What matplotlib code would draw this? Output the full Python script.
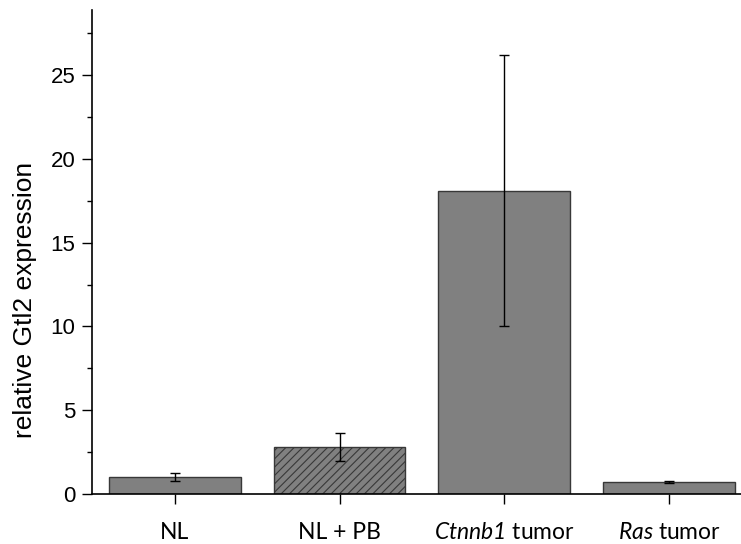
import matplotlib
matplotlib.use("Agg")
import matplotlib.pyplot as plt
from matplotlib.ticker import MultipleLocator

categories = ["NL", "NL + PB", "Ctnnb1 tumor", "Ras tumor"]
tick_labels = [r"NL", r"NL + PB", r"$\mathit{Ctnnb1}$ tumor", r"$\mathit{Ras}$ tumor"]
values = [1.0, 2.8, 18.1, 0.7]
errors = [0.25, 0.85, 8.1, 0.07]
hatches = ["", "////", "", ""]

plt.rcParams["hatch.linewidth"] = 0.8
plt.rcParams["hatch.color"] = "#333333"
# italic gene names (digits included) via mathtext
plt.rcParams["mathtext.fontset"] = "custom"
plt.rcParams["mathtext.it"] = "Lato:italic"
plt.rcParams["mathtext.rm"] = "Lato:italic"

fig = plt.figure(figsize=(7.41, 5.44), dpi=100)
ax = fig.add_axes([0.124, 0.092, 0.876, 0.89])

x = range(len(values))
bars = ax.bar(x, values, width=0.8, color="#808080", edgecolor="#383838", linewidth=1.0)
for b, h in zip(bars, hatches):
    b.set_hatch(h)
ax.errorbar(x, values, yerr=errors, fmt="none", ecolor="black", elinewidth=1.0,
            capsize=3.3, capthick=1.0)

ax.set_xlim(-0.504, 3.437)
ax.set_ylim(0, 28.9)
ax.yaxis.set_major_locator(MultipleLocator(5))
ax.yaxis.set_minor_locator(MultipleLocator(2.5))
ax.tick_params(axis="y", which="major", direction="out", length=7, width=1, labelsize=16, pad=5)
ax.tick_params(axis="y", which="minor", direction="out", length=3.5, width=1)
ax.tick_params(axis="x", direction="out", length=7, width=1, pad=13)
for lbl in ax.get_yticklabels():
    lbl.set_family("Liberation Sans")

ax.set_xticks(list(x))
ax.set_xticklabels(tick_labels, fontsize=16.5, family="Lato")

fig.text(25 / 741, 1 - 300 / 544, "relative Gtl2 expression", rotation=90,
         ha="center", va="center", fontsize=19, family="Liberation Sans")

for s in ["top", "right"]:
    ax.spines[s].set_visible(False)
ax.spines["left"].set_linewidth(1.2)
ax.spines["bottom"].set_linewidth(1.2)

fig.savefig("out.png", dpi=100)
